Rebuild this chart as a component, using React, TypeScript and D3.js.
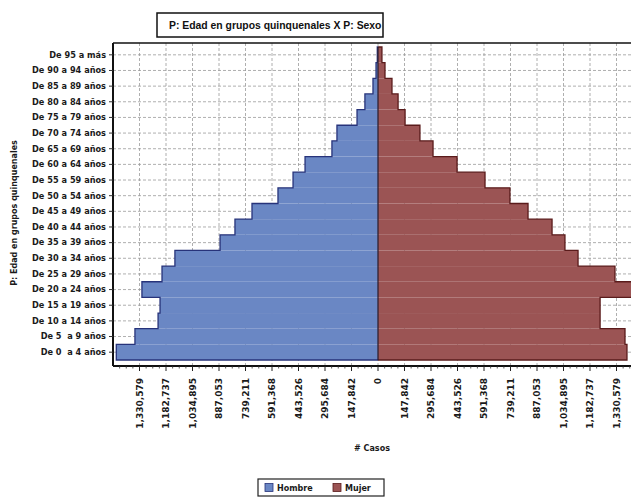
import React from "react";
import * as d3 from "d3";

const categories = [
  "De 0  a 4 años", "De 5  a 9 años", "De 10 a 14 años", "De 15 a 19 años",
  "De 20 a 24 años", "De 25 a 29 años", "De 30 a 34 años", "De 35 a 39 años",
  "De 40 a 44 años", "De 45 a 49 años", "De 50 a 54 años", "De 55 a 59 años",
  "De 60 a 64 años", "De 65 a 69 años", "De 70 a 74 años", "De 75 a 79 años",
  "De 80 a 84 años", "De 85 a 89 años", "De 90 a 94 años", "De 95 a más",
];
const hombre = [
  1460000, 1356000, 1227000, 1216000, 1317000, 1205000, 1133000, 881000,
  798000, 703000, 558000, 474000, 407000, 257000, 229000, 117000,
  73000, 28000, 11000, 4000,
];
const mujer = [
  1389000, 1378000, 1239000, 1239000, 1470000, 1322000, 1116000, 1043000,
  971000, 837000, 736000, 597000, 441000, 307000, 234000, 151000,
  112000, 78000, 39000, 22000,
];
const tickMax = 1330579;
const tickCount = 9;
const tickLabels = [
  "147,842", "295,684", "443,526", "591,368", "739,211",
  "887,053", "1,034,895", "1,182,737", "1,330,579",
];
const seriesNames = ["Hombre", "Mujer"];
const title = "P: Edad en grupos quinquenales X P: Sexo";
const yTitle = "P: Edad en grupos quinquenales";
const xTitle = "# Casos";

const W = 631, H = 501;
const plotL = 113, plotR = 643, plotT = 43, plotB = 366;
const barsT = 47, barsB = 360;
const maleFill = "#6a87c4", maleStroke = "#27337a";
const femFill = "#9b5454", femStroke = "#5a1b1b";
const font = "'DejaVu Sans', sans-serif";

export default function App() {
  const step = tickMax / tickCount;
  const dmax = step * 10;
  const x = d3.scaleLinear().domain([-dmax, dmax]).range([plotL, plotR]);
  const y = d3.scaleBand<string>().domain([...categories].reverse()).range([barsT, barsB]).padding(0);
  const x0 = x(0);
  const bw = y.bandwidth();

  const ticks: { v: number; label: string }[] = [];
  for (let i = tickCount; i >= 1; i--) ticks.push({ v: -i * step, label: tickLabels[i - 1] });
  ticks.push({ v: 0, label: "0" });
  for (let i = 1; i <= tickCount; i++) ticks.push({ v: i * step, label: tickLabels[i - 1] });

  const minor: number[] = [];
  for (let k = -40; k <= 40; k++) {
    if (k % 4 !== 0) minor.push((k * step) / 4);
  }

  const silhouette = (vals: number[], sign: number) => {
    const pts: [number, number][] = [];
    pts.push([x0, (y(categories[0]) as number) + bw]);
    vals.forEach((v, i) => {
      const yt = y(categories[i]) as number;
      pts.push([x(sign * v), yt + bw]);
      pts.push([x(sign * v), yt]);
    });
    pts.push([x0, y(categories[categories.length - 1]) as number]);
    return d3.line()(pts) as string;
  };

  return (
    <svg width={W} height={H} style={{ position: "absolute", left: 0, top: 0, background: "#fff" }}>
      <defs>
        <clipPath id="plotclip">
          <rect x={plotL} y={plotT} width={plotR - plotL} height={plotB - plotT} />
        </clipPath>
      </defs>
      {/* Title */}
      <rect x={157} y={13} width={226} height={24} fill="#fff" stroke="#111" strokeWidth={1.5} />
      <text x={169} y={29} textAnchor="start" fontFamily="'Liberation Sans', Arial, sans-serif"
        fontWeight="bold" fontSize={10.4} fill="#111">{title}</text>

      {/* Plot background + grid */}
      <rect x={plotL} y={plotT} width={plotR - plotL} height={plotB - plotT} fill="#fff" />
      <g clipPath="url(#plotclip)">
        {ticks.map((t, i) => (
          <line key={"gv" + i} x1={x(t.v)} x2={x(t.v)} y1={plotT} y2={plotB}
            stroke="#9a9a9a" strokeWidth={0.8} strokeDasharray="3,2" />
        ))}
        {categories.map((c) => (
          <line key={"gh" + c} x1={plotL} x2={plotR} y1={(y(c) as number) + bw / 2} y2={(y(c) as number) + bw / 2}
            stroke="#9a9a9a" strokeWidth={0.8} strokeDasharray="3,2" />
        ))}
        {categories.map((c, i) => (
          <rect key={"m" + c} x={x(-hombre[i])} y={y(c) as number} width={x0 - x(-hombre[i])} height={bw} fill={maleFill} />
        ))}
        {categories.map((c, i) => (
          <rect key={"f" + c} x={x0} y={y(c) as number} width={x(mujer[i]) - x0} height={bw} fill={femFill} />
        ))}
        <path d={silhouette(hombre, -1)} fill="none" stroke={maleStroke} strokeWidth={1.3} />
        <path d={silhouette(mujer, 1)} fill="none" stroke={femStroke} strokeWidth={1.3} />
        <line x1={x0} x2={x0} y1={barsT} y2={barsB} stroke="#2a1a2a" strokeWidth={1.2} />
      </g>

      {/* Plot border */}
      <line x1={plotL} x2={plotR} y1={plotT} y2={plotT} stroke="#111" strokeWidth={1.5} />
      <line x1={plotL} x2={plotL} y1={plotT} y2={plotB} stroke="#111" strokeWidth={2} />
      <line x1={plotL} x2={plotR} y1={plotB} y2={plotB} stroke="#111" strokeWidth={2} />

      {/* Y axis ticks and labels */}
      {categories.map((c) => {
        const cy = (y(c) as number) + bw / 2;
        return (
          <g key={"yl" + c}>
            <line x1={plotL - 4} x2={plotL} y1={cy} y2={cy} stroke="#333" strokeWidth={1} />
            <text x={plotL - 7} y={cy} dy="0.35em" textAnchor="end" fontFamily={font} fontWeight="bold"
              fontSize={8.2} fill="#1a1a1a" style={{ whiteSpace: "pre" }}>{c}</text>
          </g>
        );
      })}
      <text transform={`translate(17,${213}) rotate(-90)`} textAnchor="middle" fontFamily={font}
        fontWeight="bold" fontSize={8} fill="#1a1a1a">{yTitle}</text>

      {/* X axis ticks and labels */}
      {minor.map((v, i) => (
        <line key={"mt" + i} x1={x(v)} x2={x(v)} y1={plotB} y2={plotB + 2.5} stroke="#333" strokeWidth={0.8} />
      ))}
      {ticks.map((t, i) => (
        <g key={"xt" + i}>
          <line x1={x(t.v)} x2={x(t.v)} y1={plotB} y2={plotB + 5} stroke="#222" strokeWidth={1} />
          <text transform={`translate(${x(t.v)},${378}) rotate(-90)`} textAnchor="end" dy="0.35em"
            fontFamily={font} fontWeight="bold" fontSize={9} fill="#1a1a1a">{t.label}</text>
        </g>
      ))}
      <text x={372} y={451} textAnchor="middle" fontFamily={font} fontWeight="bold" fontSize={8} fill="#1a1a1a">{xTitle}</text>

      {/* Legend */}
      <rect x={258} y={479} width={126} height={17} fill="#fff" stroke="#222" strokeWidth={1.2} />
      <rect x={265} y={483.5} width={8} height={8} fill={maleFill} stroke={maleStroke} strokeWidth={0.8} />
      <text x={277} y={490.5} fontFamily={font} fontWeight="bold" fontSize={8} fill="#1a1a1a">{seriesNames[0]}</text>
      <rect x={333} y={483.5} width={8} height={8} fill={femFill} stroke={femStroke} strokeWidth={0.8} />
      <text x={345} y={490.5} fontFamily={font} fontWeight="bold" fontSize={8} fill="#1a1a1a">{seriesNames[1]}</text>
    </svg>
  );
}
